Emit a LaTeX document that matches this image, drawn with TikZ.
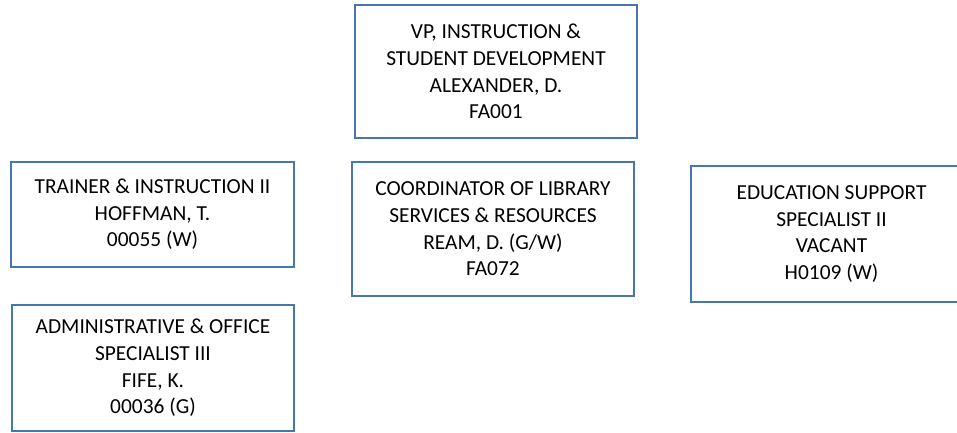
\documentclass[tikz,border=0pt]{standalone}
\usepackage{fontspec}
\setmainfont{Carlito}
\definecolor{boxblue}{HTML}{4876B0}
\begin{document}
\begin{tikzpicture}[x=1bp,y=-1bp,
  orgbox/.style={draw=boxblue, line width=2.7bp, align=center, inner sep=0pt,
    font=\fontsize{21.4bp}{26.6bp}\selectfont, text=black}]
\useasboundingbox (0,0) rectangle (957,432);
\clip (0,0) rectangle (957,432);
\node[orgbox, minimum width=282bp, minimum height=133bp] (vp) at (496,71.5)
  {VP, INSTRUCTION \&\\STUDENT DEVELOPMENT\\ALEXANDER, D.\\FA001};
\node[orgbox, minimum width=283bp, minimum height=105bp] (trainer) at (152.5,214.5)
  {TRAINER \& INSTRUCTION II\\HOFFMAN, T.\\00055 (W)};
\node[orgbox, minimum width=282bp, minimum height=134bp] (coord) at (493,229)
  {COORDINATOR OF LIBRARY\\SERVICES \& RESOURCES\\REAM, D. (G/W)\\FA072};
\node[orgbox, minimum width=281bp, minimum height=136bp] (edu) at (831.5,234)
  {EDUCATION SUPPORT\\SPECIALIST II\\VACANT\\H0109 (W)};
\node[orgbox, minimum width=282bp, minimum height=126bp] (admin) at (153,368)
  {ADMINISTRATIVE \& OFFICE\\SPECIALIST III\\FIFE, K.\\00036 (G)};
\end{tikzpicture}
\end{document}
